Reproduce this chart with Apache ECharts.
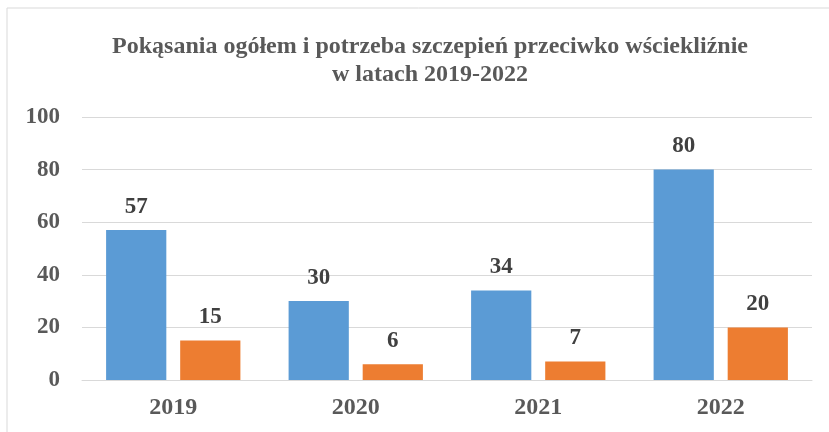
<!DOCTYPE html>
<html lang="pl">
<head>
    <meta charset="UTF-8">
    <title>Pokąsania ogółem</title>
    <script src="https://cdn.jsdelivr.net/npm/echarts/dist/echarts.min.js"></script>
    <style>
        body { margin: 0; padding: 0; background: white; }
        #chartContainer { width: 829px; height: 432px; }
    </style>
</head>
<body>
    <div id="chartContainer"></div>
    <script>
        // dane z wykresu
        const years = ['2019', '2020', '2021', '2022'];
        const bites = [57, 30, 34, 80];       // pokąsania ogółem
        const vaccinations = [15, 6, 7, 20];  // potrzeba szczepień
        const yTicks = { min: 0, max: 100, interval: 20 };

        const fontFam = '"Liberation Serif", "Times New Roman", serif';
        const chart = echarts.init(document.getElementById('chartContainer'));

        const labelStyle = {
            show: true,
            position: 'top',
            distance: 12,
            fontFamily: fontFam,
            fontWeight: 'bold',
            fontSize: 23,
            color: '#404040'
        };

        chart.setOption({
            animation: false,
            backgroundColor: '#fff',
            graphic: [{
                type: 'rect',
                shape: { x: 7, y: 8, width: 900, height: 500 },
                style: { fill: 'none', stroke: '#d9d9d9', lineWidth: 1 }
            }],
            title: {
                text: 'Pokąsania ogółem i potrzeba szczepień przeciwko wściekliźnie\nw latach 2019-2022',
                left: 425,
                top: 28,
                textAlign: 'center',
                textStyle: {
                    fontFamily: fontFam,
                    fontWeight: 'bold',
                    fontSize: 24,
                    lineHeight: 28,
                    color: '#595959'
                }
            },
            grid: { left: 82, right: 17, top: 117, bottom: 52, containLabel: false },
            xAxis: {
                type: 'category',
                data: years,
                axisLine: { lineStyle: { color: '#d9d9d9', width: 1 } },
                axisTick: { show: false },
                axisLabel: {
                    margin: 16,
                    fontFamily: fontFam,
                    fontWeight: 'bold',
                    fontSize: 24,
                    color: '#595959'
                }
            },
            yAxis: {
                type: 'value',
                min: yTicks.min,
                max: yTicks.max,
                interval: yTicks.interval,
                axisLine: { show: false },
                axisTick: { show: false },
                splitLine: { lineStyle: { color: '#d9d9d9', width: 1 } },
                axisLabel: {
                    margin: 22,
                    fontFamily: fontFam,
                    fontWeight: 'bold',
                    fontSize: 23,
                    color: '#595959'
                }
            },
            series: [
                {
                    name: 'Pokąsania ogółem',
                    type: 'bar',
                    data: bites,
                    barWidth: '33%',
                    barGap: '23%',
                    itemStyle: { color: '#5b9bd5' },
                    label: labelStyle
                },
                {
                    name: 'Potrzeba szczepień',
                    type: 'bar',
                    data: vaccinations,
                    barWidth: '33%',
                    itemStyle: { color: '#ed7d31' },
                    label: labelStyle
                }
            ]
        });
    </script>
</body>
</html>
